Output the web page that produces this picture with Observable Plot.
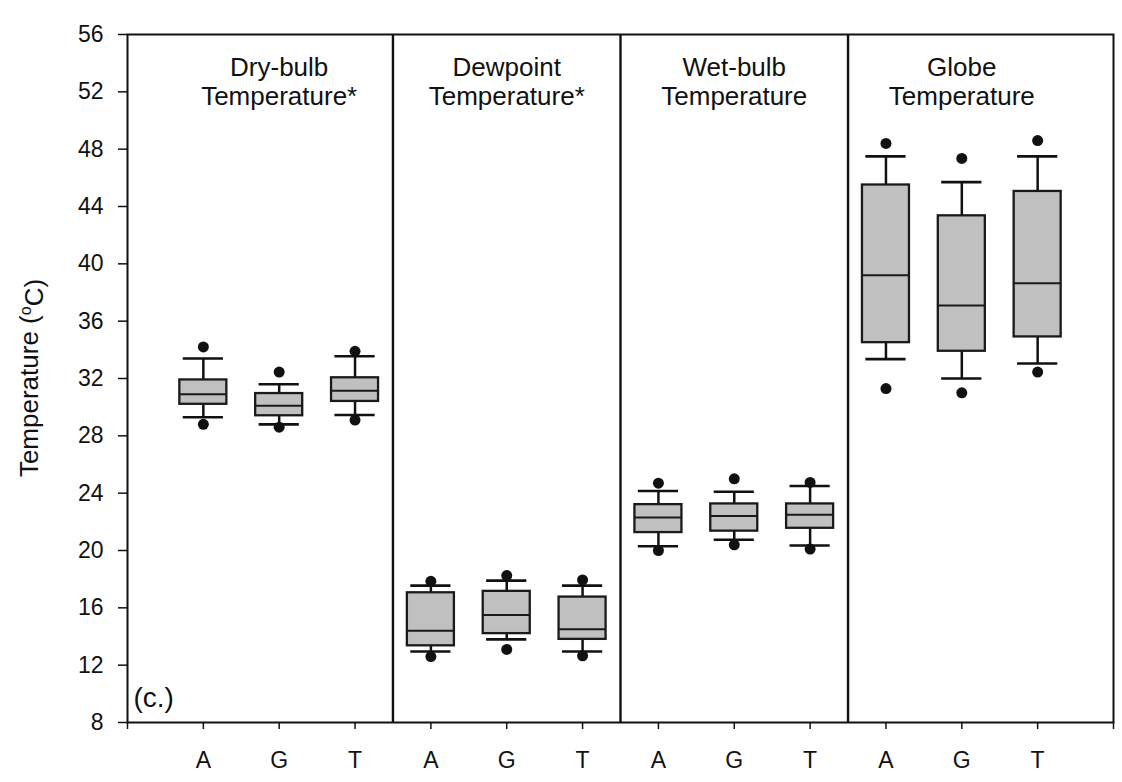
<!DOCTYPE html>
<html><head><meta charset="utf-8">
<script src="https://cdn.jsdelivr.net/npm/d3@7"></script>
<script src="https://cdn.jsdelivr.net/npm/@observablehq/plot@0.6"></script>
<style>html,body{margin:0;padding:0;background:#fff;overflow:hidden}</style>
</head><body><div id="chart"></div>
<script>
// Panels (measure) and groups within each panel
const panelTitles = ["Dry-bulb\nTemperature*", "Dewpoint\nTemperature*", "Wet-bulb\nTemperature", "Globe\nTemperature"];
const groupLabels = ["A", "G", "T"];
// Box-plot statistics, 12 boxes: panel-major, group-minor (°C)
const outlierHigh = [34.2, 32.45, 33.9,  17.85, 18.25, 17.95,  24.7, 25.0, 24.75,  48.4, 47.35, 48.6];
const whiskerHigh = [33.4, 31.6, 33.55,  17.55, 17.9, 17.55,   24.15, 24.1, 24.5,  47.5, 45.7, 47.5];
const q3          = [31.9, 30.95, 32.05, 17.05, 17.15, 16.75,  23.2, 23.25, 23.25, 45.5, 43.35, 45.05];
const median      = [30.9, 30.1, 31.15,  14.4, 15.5, 14.5,     22.3, 22.4, 22.5,   39.2, 37.1, 38.65];
const q1          = [30.2, 29.4, 30.4,   13.35, 14.2, 13.8,    21.25, 21.35, 21.55, 34.5, 33.9, 34.9];
const whiskerLow  = [29.3, 28.8, 29.45,  12.95, 13.8, 12.95,   20.3, 20.75, 20.35, 33.35, 32.0, 33.05];
const outlierLow  = [28.8, 28.6, 29.1,   12.6, 13.1, 12.65,    20.0, 20.4, 20.1,   31.3, 31.0, 32.45];
const yTicks = [8, 12, 16, 20, 24, 28, 32, 36, 40, 44, 48, 52, 56];
const panelLetter = "(c.)";

const rows = q1.map((_, i) => ({
  pos: i + 1,
  group: groupLabels[i % 3],
  outlierHigh: outlierHigh[i], whiskerHigh: whiskerHigh[i], q3: q3[i],
  median: median[i], q1: q1[i], whiskerLow: whiskerLow[i], outlierLow: outlierLow[i]
}));
const titleRows = panelTitles.map((t, k) => ({pos: 3 * k + 2, title: t}));
const separators = [3.5, 6.5, 9.5];
const boxHalf = 0.31, capHalf = 0.265;
const ink = "#111";

const chart = Plot.plot({
  width: 1122, height: 782,
  marginTop: 34, marginLeft: 127, marginRight: 9, marginBottom: 60,
  style: {fontFamily: "'Liberation Sans', Arial, sans-serif", fontSize: "23px", color: ink, background: "#fff"},
  x: {domain: [0, 13]},
  y: {domain: [8, 56]},
  marks: [
    Plot.ruleX(rows, {x: "pos", y1: "whiskerLow", y2: "q1", stroke: ink, strokeWidth: 2.5}),
    Plot.ruleX(rows, {x: "pos", y1: "q3", y2: "whiskerHigh", stroke: ink, strokeWidth: 2.5}),
    Plot.ruleY(rows, {y: "whiskerLow", x1: d => d.pos - capHalf, x2: d => d.pos + capHalf, stroke: ink, strokeWidth: 2.6}),
    Plot.ruleY(rows, {y: "whiskerHigh", x1: d => d.pos - capHalf, x2: d => d.pos + capHalf, stroke: ink, strokeWidth: 2.6}),
    Plot.rect(rows, {x1: d => d.pos - boxHalf, x2: d => d.pos + boxHalf, y1: "q1", y2: "q3", fill: "#c0c0c0", stroke: "#1a1a1a", strokeWidth: 2.3}),
    Plot.ruleY(rows, {y: "median", x1: d => d.pos - boxHalf, x2: d => d.pos + boxHalf, stroke: "#1a1a1a", strokeWidth: 2}),
    Plot.dot(rows, {x: "pos", y: "outlierHigh", r: 5.5, fill: ink, stroke: "none"}),
    Plot.dot(rows, {x: "pos", y: "outlierLow", r: 5.5, fill: ink, stroke: "none"}),
    Plot.ruleX(separators, {stroke: ink, strokeWidth: 2.4}),
    Plot.frame({stroke: ink, strokeWidth: 2}),
    Plot.axisY({ticks: yTicks, tickSize: 9, tickPadding: 15, label: null, strokeWidth: 1.5, fontSize: 23}),
    Plot.axisX({ticks: d3.range(0, 14), tickFormat: d => (d >= 1 && d <= 12) ? groupLabels[(d - 1) % 3] : "",
      tickSize: 7, tickPadding: 22, label: null, strokeWidth: 1.5, fontSize: 23}),
    Plot.text(titleRows, {x: "pos", frameAnchor: "top", text: "title", lineAnchor: "top", dy: 21, fontSize: 26, lineHeight: 1.12, fill: ink}),
    Plot.text([panelLetter], {frameAnchor: "bottom-left", text: d => d, textAnchor: "start", lineAnchor: "bottom", dx: 6, dy: -16, fontSize: 28, fill: ink})
  ]
});
document.getElementById("chart").appendChild(chart);

// y-axis title with superscript "o"
const svg = d3.select(chart);
const yLabel = svg.append("text")
  .attr("transform", "translate(38,378) rotate(-90)")
  .attr("text-anchor", "middle")
  .attr("fill", ink)
  .style("font-size", "26px")
  .style("font-family", "'Liberation Sans', Arial, sans-serif");
yLabel.append("tspan").text("Temperature (");
yLabel.append("tspan").text("o").attr("dy", "-0.45em").style("font-size", "16px");
yLabel.append("tspan").text("C)").attr("dy", "0.45em");
</script>
</body></html>
